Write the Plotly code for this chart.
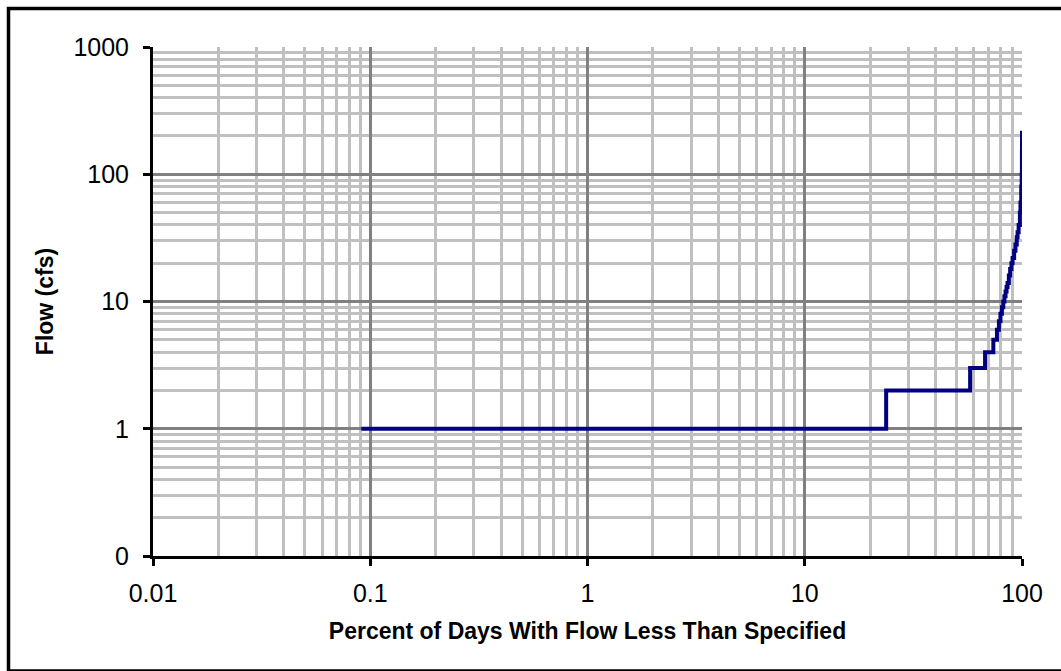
import plotly.graph_objects as go

# Flow duration data: percent of days with flow less than the value (step start) and flow in cfs
percent = [0.091, 23.7, 57.7, 67.6, 73.8, 76.7, 78.3, 79.6, 80.8, 82.0, 83.0,
           84.0, 84.9, 85.8, 87.0, 88.2, 89.4, 90.5, 92.0, 93.3, 94.6, 95.4,
           96.5, 97.8, 98.4, 99.2, 99.7, 99.9, 100.0]
flow_cfs = [1, 2, 3, 4, 5, 6, 7, 8, 9, 10, 11, 12, 13, 14, 16, 18, 20, 22, 25,
            28, 32, 35, 40, 50, 60, 80, 100, 150, 220]

x_ticks = [0.01, 0.1, 1, 10, 100]
x_tick_text = ["0.01", "0.1", "1", "10", "100"]
y_ticks = [0.1, 1, 10, 100, 1000]
y_tick_text = ["0", "1", "10", "100", "1000"]

x_minor = [k * 10.0 ** d for d in range(-2, 2) for k in range(2, 10)]
y_minor = [k * 10.0 ** d for d in range(-1, 3) for k in range(2, 10)]

W, H = 1061, 671
L, R, T, B = 153, 39, 47, 115
pw, ph = W - L - R, H - T - B

fig = go.Figure()
fig.add_trace(go.Scatter(
    x=percent, y=flow_cfs, mode="lines", line_shape="hv",
    line=dict(color="#000080", width=4), showlegend=False,
))

tick_font = dict(family="Liberation Sans, Arial", size=25, color="#000000")
title_font = dict(family="Liberation Sans, Arial", size=23, color="#000000", weight="bold")

fig.update_xaxes(
    type="log", range=[-2, 2],
    tickvals=x_ticks, ticktext=x_tick_text, tickfont=tick_font,
    ticks="outside", ticklen=7, tickwidth=3, tickcolor="#000000",
    showline=True, linecolor="#000000", linewidth=3,
    showgrid=True, gridcolor="#808080", gridwidth=3,
    minor=dict(tickvals=x_minor, showgrid=True, gridcolor="#c0c0c0", gridwidth=2.5, ticks=""),
    ticklabelstandoff=6,
    title=dict(text="Percent of Days With Flow Less Than Specified", font=title_font, standoff=17),
    zeroline=False,
)
fig.update_yaxes(
    type="log", range=[-1, 3],
    tickvals=y_ticks, ticktext=y_tick_text, tickfont=tick_font,
    ticks="outside", ticklen=7, tickwidth=3, tickcolor="#000000",
    showline=True, linecolor="#000000", linewidth=3,
    showgrid=True, gridcolor="#808080", gridwidth=3,
    minor=dict(tickvals=y_minor, showgrid=True, gridcolor="#c0c0c0", gridwidth=2.5, ticks=""),
    ticklabelstandoff=9,
    title=dict(text="Flow (cfs)", font=title_font, standoff=14),
    zeroline=False,
)

# Outer frame around the whole chart
fig.add_shape(
    type="rect", xref="paper", yref="paper", layer="above",
    x0=(8.5 - L) / pw, x1=(W + 10 - L) / pw,
    y0=(H - B - 671) / ph, y1=(H - B - 8.5) / ph,
    line=dict(color="#000000", width=3.5), fillcolor="rgba(0,0,0,0)",
)

fig.update_layout(
    width=W, height=H,
    margin=dict(l=L, r=R, t=T, b=B),
    paper_bgcolor="#ffffff", plot_bgcolor="#ffffff",
)

fig.write_html("out.html")
